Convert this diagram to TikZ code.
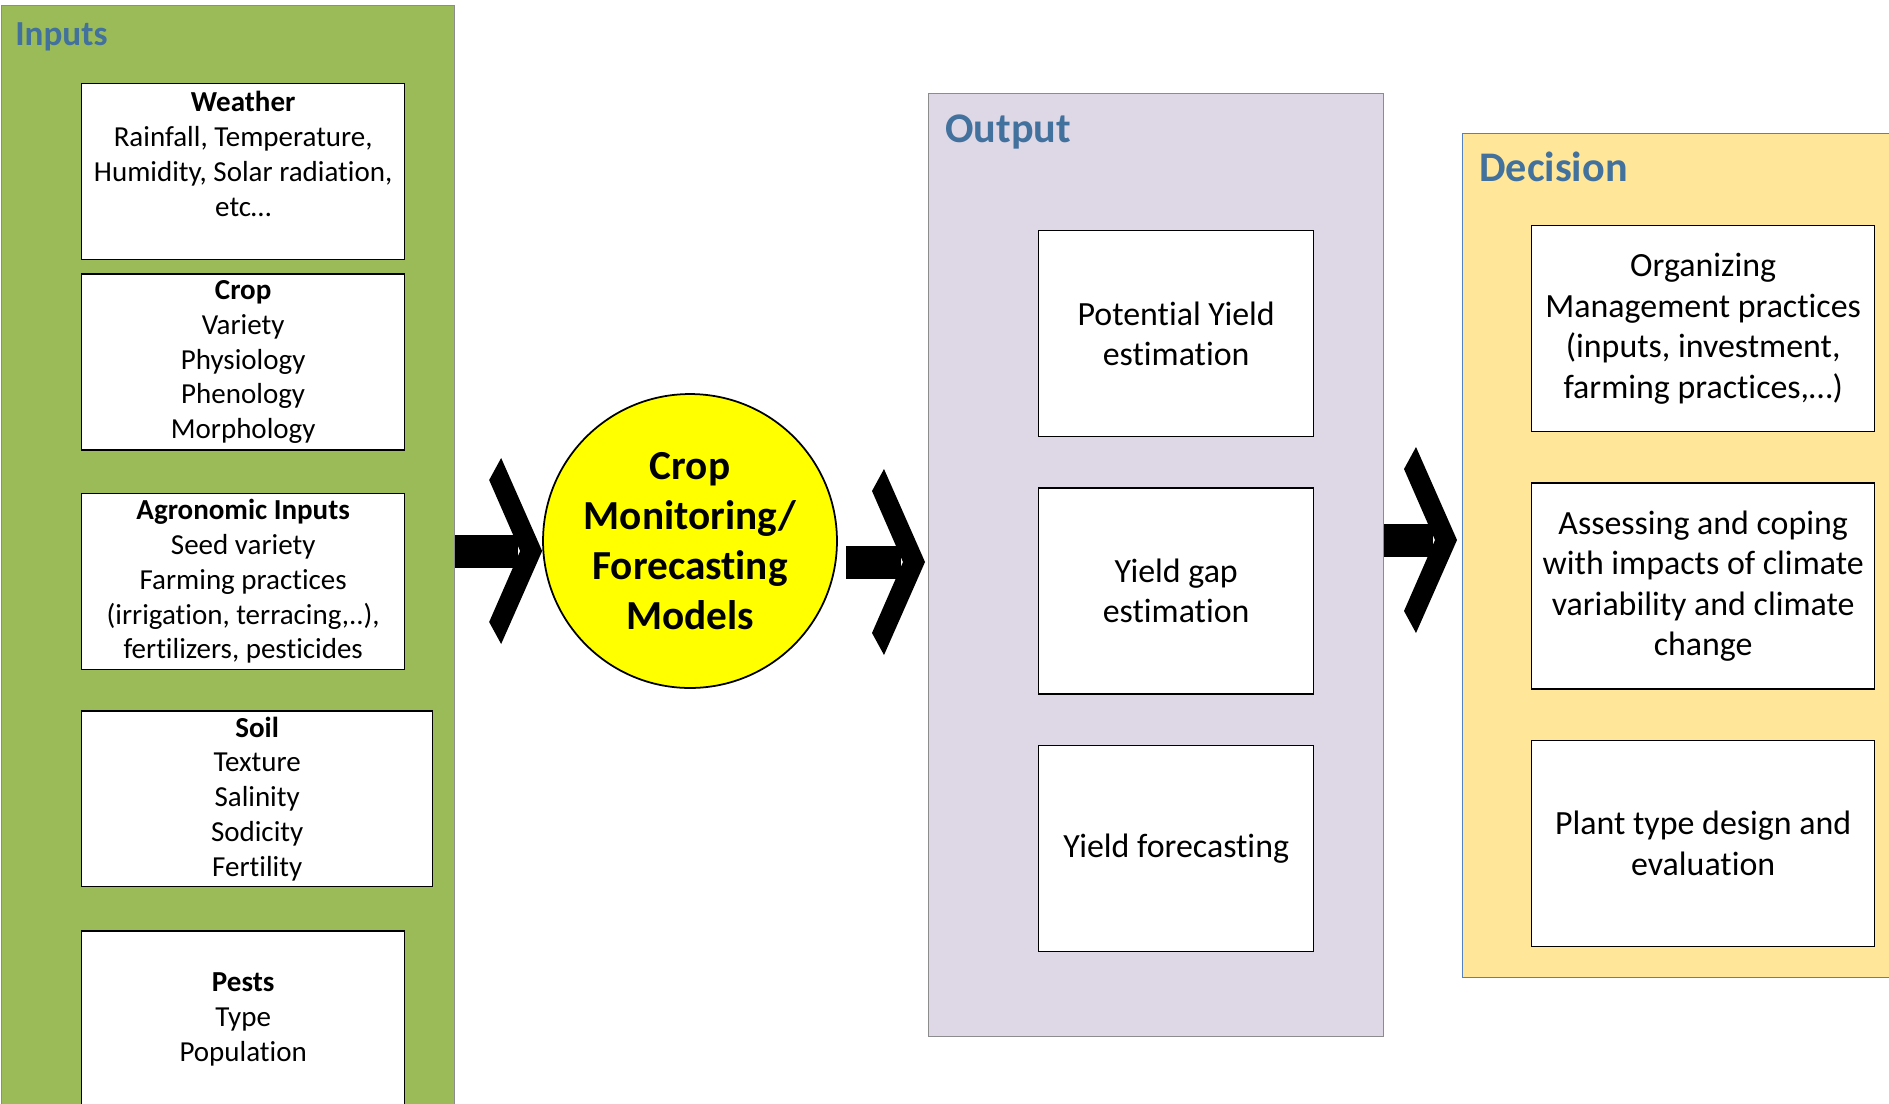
\documentclass[tikz,border=0pt]{standalone}
\usepackage{fontspec}
\setmainfont[Ligatures=NoCommon]{Carlito}
\usetikzlibrary{positioning,calc}

\definecolor{inputgreen}{RGB}{155,187,89}
\definecolor{outputlilac}{RGB}{222,215,230}
\definecolor{decisionyellow}{RGB}{255,230,153}
\definecolor{decisionblue}{RGB}{84,130,190}
\definecolor{titleblue}{RGB}{65,113,156}
\definecolor{panelgray}{RGB}{140,140,140}
\definecolor{modelyellow}{RGB}{255,255,0}

% block arrow: shaft starts at #1, chevron head points at #2
\newcommand{\flowarrow}[2]{%
  \fill ($(#1)+(0,-16.5)$) rectangle ($(#2)+(-24,16.5)$);
  \fill ($(#2)+(-41,-93)$) -- (#2) -- ($(#2)+(-41,93)$) -- ($(#2)+(-53,71)$)
    -- ($(#2)+(-22,0)$) -- ($(#2)+(-53,-71)$) -- cycle;}

\begin{document}
\begin{tikzpicture}[x=0.02cm,y=-0.02cm,
    panel/.style={draw=panelgray,line width=0.8pt,inner sep=0pt,anchor=north west},
    heading/.style={text=titleblue,font=\fontsize{24}{28}\selectfont\bfseries,
        anchor=base west,inner sep=0pt},
    inbox/.style={draw,fill=white,line width=0.8pt,minimum width=6.46cm,
        minimum height=3.52cm,align=center,inner sep=2pt,
        font=\fontsize{16.5}{19.8}\selectfont},
    outbox/.style={draw,fill=white,line width=0.8pt,minimum width=5.5cm,
        minimum height=4.12cm,align=center,font=\fontsize{19.3}{23}\selectfont},
    decbox/.style={outbox,minimum width=6.86cm},
    model/.style={circle,draw,line width=1pt,fill=modelyellow,minimum size=5.88cm,
        align=center,font=\fontsize{23.5}{28.4}\selectfont\bfseries}]

  \useasboundingbox[fill=white] (0,0) rectangle (1889,1103);

  % the three panels
  \node[panel,fill=inputgreen,minimum width=9.06cm,minimum height=22.4cm] (inputs) at (1,5) {};
  \node[panel,fill=outputlilac,minimum width=9.1cm,minimum height=18.86cm] (output) at (928,93) {};
  \node[panel,draw=decisionblue,fill=decisionyellow,minimum width=9.4cm,
        minimum height=16.88cm] (decision) at (1462,133) {};

  \node[heading,font=\fontsize{20}{24}\selectfont\bfseries] (inputs title)
        at ($(inputs.north west)+(14,40)$) {Inputs};
  \node[heading] (output title) at ($(output.north west)+(17,49)$) {Output};
  \node[heading] (decision title) at ($(decision.north west)+(17,48)$) {Decision};

  % inputs
  \node[inbox,anchor=north west] (weather) at (81,83)
        {\textbf{Weather}\\Rainfall, Temperature,\\Humidity, Solar radiation,\\etc…\\[-5.6pt]\strut};
  \node[inbox,below=0.26cm of weather.south west,anchor=north west] (crop)
        {\textbf{Crop}\\Variety\\Physiology\\Phenology\\Morphology};
  \node[inbox,below=0.84cm of crop.south west,anchor=north west] (agro)
        {\textbf{Agronomic Inputs}\\Seed variety\\Farming practices\\(irrigation, terracing,..),\\fertilizers, pesticides};
  \node[inbox,minimum width=7.02cm,below=0.8cm of agro.south west,anchor=north west] (soil)
        {\textbf{Soil}\\Texture\\Salinity\\Sodicity\\Fertility};
  \node[inbox,below=0.86cm of soil.south west,anchor=north west] (pests)
        {\textbf{Pests}\\Type\\Population};

  % model
  \node[model] (model) at (690,541) {Crop\\Monitoring/\\Forecasting\\Models};

  % outputs
  \node[outbox,anchor=north west] (potential) at (1038,230) {Potential Yield\\estimation};
  \node[outbox,below=1cm of potential] (gap) {Yield gap\\estimation};
  \node[outbox,below=1cm of gap] (forecast) {Yield forecasting};

  % decisions
  \node[decbox,anchor=north west] (organizing) at (1531,225)
        {Organizing\\Management practices\\(inputs, investment,\\farming practices,…)};
  \node[decbox,below=1cm of organizing] (coping)
        {Assessing and coping\\with impacts of climate\\variability and climate\\change};
  \node[decbox,below=1cm of coping] (plant) {Plant type design and\\evaluation};

  % arrows between the stages
  \coordinate (t1) at ($(model.west)+(0,10)$);
  \coordinate (s1) at (inputs.east |- t1);
  \coordinate (t2) at ($(output.west |- model)+(-3,21)$);
  \coordinate (s2) at ($(model.east |- t2)+(8,0)$);
  \coordinate (t3) at ($(decision.west |- model)+(-5,-1)$);
  \coordinate (s3) at (output.east |- t3);
  \flowarrow{s1}{t1}
  \flowarrow{s2}{t2}
  \flowarrow{s3}{t3}

\end{tikzpicture}
\end{document}
